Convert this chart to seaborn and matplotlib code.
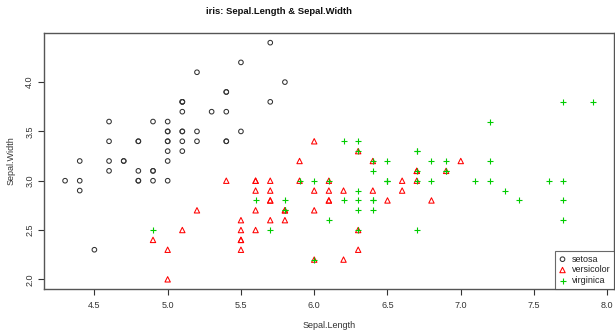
import numpy as np
import pandas as pd
import matplotlib
matplotlib.use("Agg")
import matplotlib.pyplot as plt
import seaborn as sns

setosa_len = [5.1,4.9,4.7,4.6,5.0,5.4,4.6,5.0,4.4,4.9,5.4,4.8,4.8,4.3,5.8,5.7,5.4,5.1,5.7,5.1,
              5.4,5.1,4.6,5.1,4.8,5.0,5.0,5.2,5.2,4.7,4.8,5.4,5.2,5.5,4.9,5.0,5.5,4.9,4.4,5.1,
              5.0,4.5,4.4,5.0,5.1,4.8,5.1,4.6,5.3,5.0]
setosa_wid = [3.5,3.0,3.2,3.1,3.6,3.9,3.4,3.4,2.9,3.1,3.7,3.4,3.0,3.0,4.0,4.4,3.9,3.5,3.8,3.8,
              3.4,3.7,3.6,3.3,3.4,3.0,3.4,3.5,3.4,3.2,3.1,3.4,4.1,4.2,3.1,3.2,3.5,3.6,3.0,3.4,
              3.5,2.3,3.2,3.5,3.8,3.0,3.8,3.2,3.7,3.3]
versicolor_len = [7.0,6.4,6.9,5.5,6.5,5.7,6.3,4.9,6.6,5.2,5.0,5.9,6.0,6.1,5.6,6.7,5.6,5.8,6.2,5.6,
                  5.9,6.1,6.3,6.1,6.4,6.6,6.8,6.7,6.0,5.7,5.5,5.5,5.8,6.0,5.4,6.0,6.7,6.3,5.6,5.5,
                  5.5,6.1,5.8,5.0,5.6,5.7,5.7,6.2,5.1,5.7]
versicolor_wid = [3.2,3.2,3.1,2.3,2.8,2.8,3.3,2.4,2.9,2.7,2.0,3.0,2.2,2.9,2.9,3.1,3.0,2.7,2.2,2.5,
                  3.2,2.8,2.5,2.8,2.9,3.0,2.8,3.0,2.9,2.6,2.4,2.4,2.7,2.7,3.0,3.4,3.1,2.3,3.0,2.5,
                  2.6,3.0,2.6,2.3,2.7,3.0,2.9,2.9,2.5,2.8]
virginica_len = [6.3,5.8,7.1,6.3,6.5,7.6,4.9,7.3,6.7,7.2,6.5,6.4,6.8,5.7,5.8,6.4,6.5,7.7,7.7,6.0,
                 6.9,5.6,7.7,6.3,6.7,7.2,6.2,6.1,6.4,7.2,7.4,7.9,6.4,6.3,6.1,7.7,6.3,6.4,6.0,6.9,
                 6.7,6.9,5.8,6.8,6.7,6.7,6.3,6.5,6.2,5.9]
virginica_wid = [3.3,2.7,3.0,2.9,3.0,3.0,2.5,2.9,2.5,3.6,3.2,2.7,3.0,2.5,2.8,3.2,3.0,3.8,2.6,2.2,
                 3.2,2.8,2.8,2.7,3.3,3.2,2.8,3.0,2.8,3.0,2.8,3.8,2.8,2.8,2.6,3.0,3.4,3.1,3.0,3.1,
                 3.1,3.1,2.7,3.2,3.3,3.0,2.5,3.0,3.4,3.0]

species = ["setosa", "versicolor", "virginica"]
x_ticks = [4.5, 5.0, 5.5, 6.0, 6.5, 7.0, 7.5, 8.0]
y_ticks = [2.0, 2.5, 3.0, 3.5, 4.0]

df = pd.DataFrame({
    "Sepal.Length": setosa_len + versicolor_len + virginica_len,
    "Sepal.Width": setosa_wid + versicolor_wid + virginica_wid,
    "Species": ["setosa"] * 50 + ["versicolor"] * 50 + ["virginica"] * 50,
})

sns.set_style("white")
plt.rcParams["font.family"] = ["Liberation Sans", "DejaVu Sans"]

fig = plt.figure(figsize=(6.15, 3.31), dpi=100)
ax = fig.add_axes([0.0715, 0.1275, 0.9265, 0.7722])

styles = {
    "setosa": dict(marker="o", color="#333333", filled=False, s=11),
    "versicolor": dict(marker="^", color="#ff0000", filled=False, s=15),
    "virginica": dict(marker="+", color="#00cc00", filled=True, s=24),
}
for sp in species:
    st = styles[sp]
    sub = df[df["Species"] == sp]
    if st["filled"]:
        sns.scatterplot(data=sub, x="Sepal.Length", y="Sepal.Width", ax=ax,
                        marker=st["marker"], color=st["color"], s=st["s"], linewidth=0.8,
                        label=sp)
    else:
        sns.scatterplot(data=sub, x="Sepal.Length", y="Sepal.Width", ax=ax,
                        marker=st["marker"], facecolors="none", edgecolor=st["color"],
                        s=st["s"], linewidth=0.75, label=sp)

ax.set_xlim(4.156, 8.044)
ax.set_ylim(1.904, 4.496)
ax.set_xticks(x_ticks)
ax.set_xticklabels([f"{v:.1f}" for v in x_ticks])
ax.set_yticks(y_ticks)
ax.set_yticklabels([f"{v:.1f}" for v in y_ticks], rotation=90, va="center")
ax.tick_params(axis="both", which="both", direction="out", length=4, width=0.8,
               color="#333333", labelsize=6.5, labelcolor="#333333", pad=5,
               bottom=True, left=True)
ax.tick_params(axis="y", pad=3)
for sp_ in ax.spines.values():
    sp_.set_color("#555555")
    sp_.set_linewidth(1.0)
    sp_.set_visible(True)

ax.set_xlabel("Sepal.Length", fontsize=6.5, color="#333333", labelpad=8)
ax.set_ylabel("Sepal.Width", fontsize=6.5, color="#333333", labelpad=7)
fig.text(279 / 615, 1 - 12 / 331, "iris: Sepal.Length & Sepal.Width", fontsize=6.8,
         fontweight="bold", ha="center", va="center", color="#111111")

leg = ax.legend(loc="lower right", fontsize=6.5, frameon=True, fancybox=False,
                edgecolor="#444444", borderaxespad=0, handlelength=0.8,
                handletextpad=0.6, borderpad=0.4, labelspacing=0.2)
leg.get_frame().set_linewidth(0.8)
for t in leg.get_texts():
    t.set_color("#222222")

fig.savefig("out.png", dpi=100)
